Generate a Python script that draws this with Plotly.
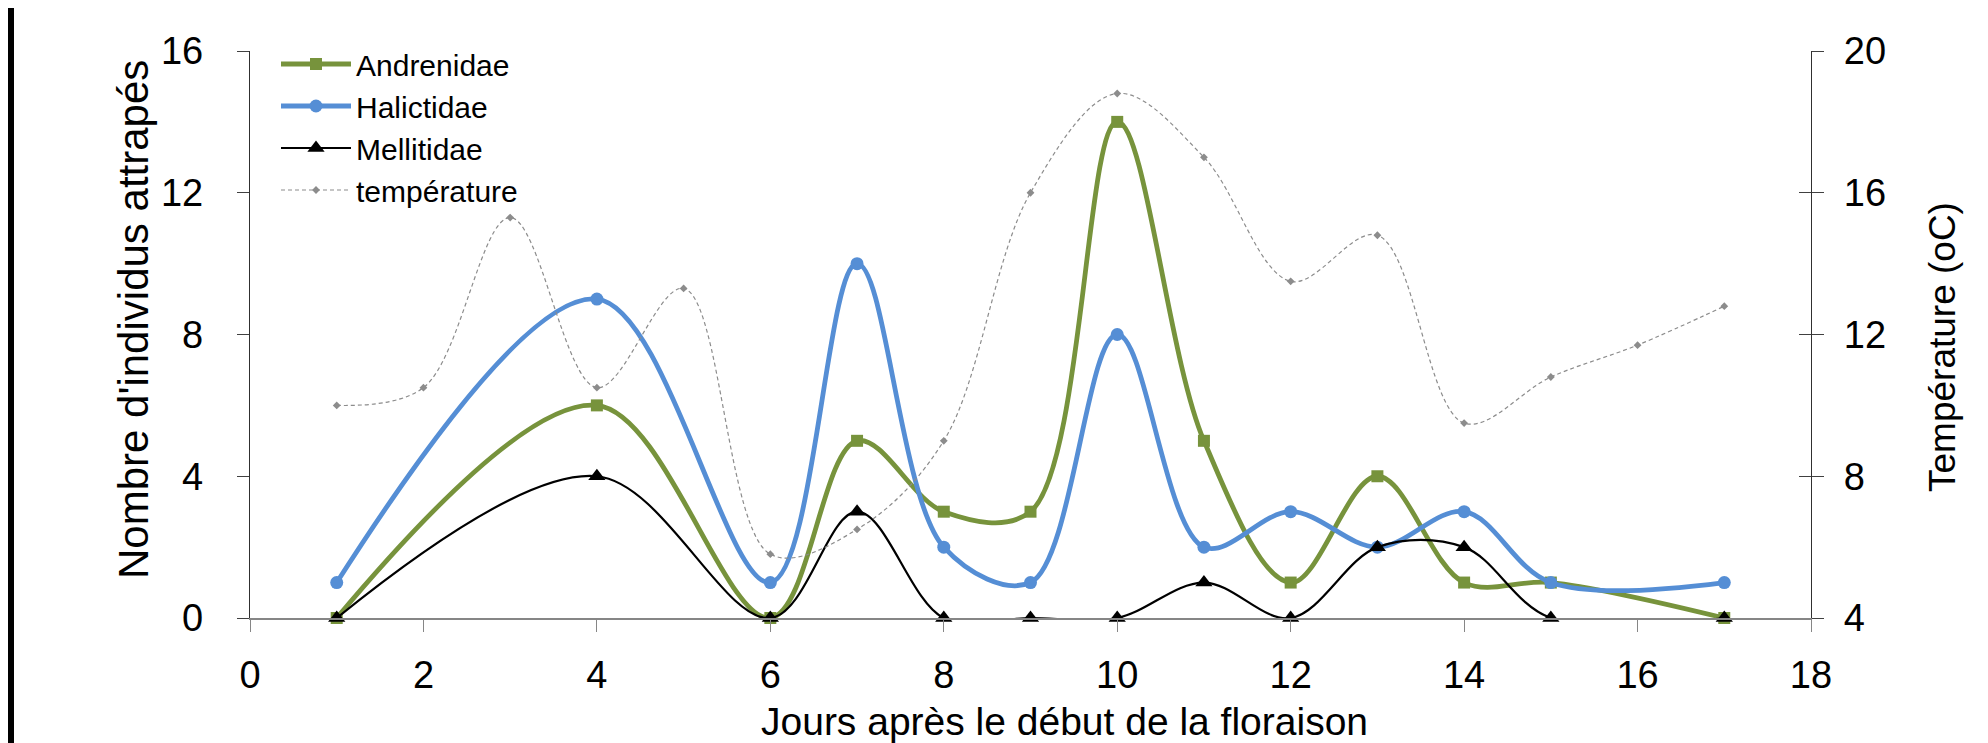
import plotly.graph_objects as go

# ---- data ----
jours = [1, 4, 6, 7, 8, 9, 10, 11, 12, 13, 14, 15, 17]
andrenidae = [0, 6, 0, 5, 3, 3, 14, 5, 1, 4, 1, 1, 0]
halictidae = [1, 9, 1, 10, 2, 1, 8, 2, 3, 2, 3, 1, 1]
mellitidae = [0, 4, 0, 3, 0, 0, 0, 1, 0, 2, 2, 0, 0]

jours_temp = [1, 2, 3, 4, 5, 6, 7, 8, 9, 10, 11, 12, 13, 14, 15, 16, 17]
temperature = [10.0, 10.5, 15.3, 10.5, 13.3, 5.8, 6.5, 9.0, 16.0, 18.8, 17.0,
               13.5, 14.8, 9.5, 10.8, 11.7, 12.8]

x_ticks = [0, 2, 4, 6, 8, 10, 12, 14, 16, 18]
y_left_ticks = [0, 4, 8, 12, 16]
y_right_ticks = [4, 8, 12, 16, 20]

FONT = "Liberation Sans, Arial, sans-serif"
W, H = 1988, 743
L, R, T, B = 242, 185, 43, 133
PW = W - L - R
PH = H - T - B


def px_x(p):
    return (p - L) / PW


def px_y(p):
    return (H - B - p) / PH


fig = go.Figure()

fig.add_trace(go.Scatter(
    x=jours, y=andrenidae, name="Andrenidae", mode="lines+markers",
    line=dict(color="#77933C", width=4.8, shape="spline", smoothing=1),
    marker=dict(symbol="square", size=12, color="#77933C"),
    cliponaxis=False))
fig.add_trace(go.Scatter(
    x=jours, y=halictidae, name="Halictidae", mode="lines+markers",
    line=dict(color="#558ED5", width=4.8, shape="spline", smoothing=1),
    marker=dict(symbol="circle", size=13, color="#558ED5"),
    cliponaxis=False))
fig.add_trace(go.Scatter(
    x=jours, y=mellitidae, name="Mellitidae", mode="lines+markers",
    line=dict(color="#000000", width=2.2, shape="spline", smoothing=1),
    marker=dict(symbol="triangle-up", size=15, color="#000000"),
    cliponaxis=False))
fig.add_trace(go.Scatter(
    x=jours_temp, y=temperature, name="température", mode="lines+markers",
    yaxis="y2",
    line=dict(color="#8C8C8C", width=1.2, dash="4px,3px", shape="spline", smoothing=1),
    marker=dict(symbol="diamond", size=6, color="#8C8C8C"),
    cliponaxis=False))
# invisible helper so the inner (cross) ticks of the right axis are drawn
fig.add_trace(go.Scatter(
    x=jours_temp, y=temperature, yaxis="y3", mode="lines", showlegend=False,
    line=dict(width=0), opacity=0, hoverinfo="skip"))

tickfont = dict(family=FONT, size=38, color="#000000")

fig.update_layout(
    width=W, height=H,
    margin=dict(l=L, r=R, t=T, b=B, pad=0),
    paper_bgcolor="white", plot_bgcolor="white",
    font=dict(family=FONT, color="#000000"),
    showlegend=True,
    legend=dict(
        x=px_x(268), y=px_y(30), xanchor="left", yanchor="top",
        font=dict(family=FONT, size=30, color="#000000"),
        itemwidth=70, tracegroupgap=0, bgcolor="rgba(0,0,0,0)",
        traceorder="normal"),
    xaxis=dict(
        range=[0, 18], tickvals=x_ticks, ticks="outside", ticklen=12,
        tickcolor="#868686", tickwidth=1.3, showline=True, linecolor="#868686",
        linewidth=2, showgrid=False, zeroline=False, tickfont=tickfont,
        ticklabelstandoff=10, automargin=False),
    yaxis=dict(
        range=[0, 16], tickvals=y_left_ticks, ticks="outside", ticklen=12,
        tickcolor="#404040", tickwidth=1.3, showline=True, linecolor="#303030",
        linewidth=1.3, showgrid=False, zeroline=False, tickfont=tickfont,
        ticklabelstandoff=26, automargin=False),
    yaxis2=dict(
        range=[4, 20], tickvals=y_right_ticks, overlaying="y", side="right",
        ticks="outside", ticklen=12, tickcolor="#404040", tickwidth=1.3,
        showline=True, linecolor="#303030", linewidth=1.3, showgrid=False,
        zeroline=False, tickfont=tickfont, ticklabelstandoff=12, automargin=False),
    yaxis3=dict(
        range=[4, 20], tickvals=y_right_ticks, overlaying="y", side="right",
        ticks="inside", ticklen=12, tickcolor="#404040", tickwidth=1.3,
        showline=False, showgrid=False, zeroline=False, showticklabels=False,
        automargin=False),
    annotations=[
        dict(text="Jours après le début de la floraison", xref="paper", yref="paper",
             x=px_x(1056), y=px_y(713), xanchor="center", yanchor="middle",
             showarrow=False, font=dict(family=FONT, size=39, color="#000000")),
        dict(text="Nombre d'individus attrapés", xref="paper", yref="paper",
             x=px_x(125), y=px_y(312), xanchor="center", yanchor="middle",
             textangle=-90, showarrow=False,
             font=dict(family=FONT, size=42, color="#000000")),
        dict(text="Température (oC)", xref="paper", yref="paper",
             x=px_x(1934), y=px_y(339), xanchor="center", yanchor="middle",
             textangle=-90, showarrow=False,
             font=dict(family=FONT, size=37, color="#000000")),
    ],
    shapes=[
        dict(type="line", xref="paper", yref="paper",
             x0=px_x(3), x1=px_x(3), y0=px_y(H + 5), y1=px_y(-5),
             line=dict(color="#000000", width=6)),
    ],
)

fig.write_html("out.html")
